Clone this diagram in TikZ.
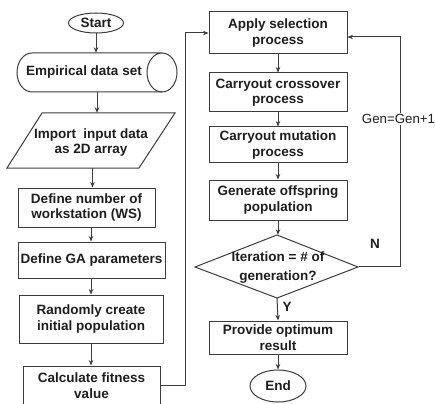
\documentclass[tikz,border=0pt]{standalone}
\usepackage{fontspec}
\setmainfont{Liberation Sans}
\usetikzlibrary{arrows.meta,shapes.geometric}
\definecolor{linegray}{HTML}{3C3C3C}
\definecolor{inkgray}{HTML}{1E1E1E}
\tikzset{
  box/.style={draw=linegray, line width=1pt, rectangle, inner sep=0pt,
    align=center, text=inkgray, font=\fontsize{13.5}{15.5}\selectfont\bfseries},
  ghost/.style={rectangle, inner sep=0pt, align=center, text=inkgray,
    font=\fontsize{13.5}{15.5}\selectfont\bfseries},
  term/.style={draw=linegray, line width=1pt, ellipse, inner sep=0pt,
    text=inkgray, font=\fontsize{13.5}{15.5}\selectfont\bfseries},
  flow/.style={draw=linegray, line width=1pt, -{Stealth[length=5.5pt,width=4.5pt]}},
  outline/.style={draw=linegray, line width=1pt},
  tag/.style={text=inkgray, inner sep=1pt, font=\fontsize{13.5}{15.5}\selectfont\bfseries},
}
\begin{document}
\begin{tikzpicture}[x=1pt,y=-1pt]
\useasboundingbox[fill=white] (0,0) rectangle (435,403);

% ---------- left column ----------
\node[term, minimum width=55pt, minimum height=20pt] (start) at (96,23) {Start};

% cylinder (data store)
\node[ghost, minimum width=160pt, minimum height=39pt] (emp) at (97,72.5) {};
\draw[outline] (32,53) -- (162,53) arc[start angle=90, end angle=-270, x radius=15, y radius=-19.5];
\draw[outline] (162,92) -- (32,92) arc[start angle=-90, end angle=-270, x radius=15, y radius=-19.5];
\node[ghost] at (84,72.5) {Empirical data set};

% parallelogram (input)
\node[ghost, minimum width=140pt, minimum height=55pt] (imp) at (91,140.5) {};
\draw[outline] (42,113) -- (175,113) -- (139,168) -- (7,168) -- cycle;
\node[ghost] at (91,142.5) {Import\ \ input data\\as 2D array};

\node[box, minimum width=137pt, minimum height=39pt] (defnum) at (86.5,207.5) {Define number of\\workstation (WS)};
\node[box, minimum width=147pt, minimum height=36pt] (defga) at (91.5,260) {Define GA parameters};
\node[box, minimum width=144pt, minimum height=48pt] (rand) at (91,319) {Randomly create\\initial population};
\node[box, minimum width=137pt, minimum height=39pt] (calc) at (91.5,385.5) {Calculate fitness\\value};

% ---------- right column ----------
\node[box, minimum width=138pt, minimum height=42pt] (apply) at (278,33) {Apply selection\\process};
\node[box, minimum width=138pt, minimum height=39pt] (cross) at (278,92.5) {Carryout crossover\\process};
\node[box, minimum width=138pt, minimum height=36pt] (mut) at (278,145) {Carryout mutation\\process};
\node[box, minimum width=138pt, minimum height=40pt] (offs) at (278,200) {Generate offspring\\population};

% decision diamond
\node[ghost, minimum width=163pt, minimum height=63pt] (iter) at (277,266.5) {};
\draw[outline] (277,235) -- (358,267) -- (277,298) -- (195,267) -- cycle;
\node[ghost, font=\fontsize{13.5}{19}\selectfont\bfseries] at (278,268) {Iteration = \# of\\generation?};

\node[box, minimum width=138pt, minimum height=33pt] (prov) at (278,337.5) {Provide optimum\\result};
\node[term, minimum width=56pt, minimum height=32pt] (end) at (278,386) {End};

% ---------- connectors ----------
\draw[flow] (start.south) -- (start.south |- emp.north);
\draw[flow] (emp.south) -- (emp.south |- imp.north);
\draw[flow] ([xshift=1.5pt]imp.south) -- ([xshift=1.5pt]imp.south |- defnum.north);
\draw[flow] ([xshift=4.5pt]defnum.south) -- ([xshift=4.5pt]defnum.south |- defga.north);
\draw[flow] ([xshift=-0.5pt]defga.south) -- ([xshift=-0.5pt]defga.south |- rand.north);
\draw[flow] (rand.south) -- (rand.south |- calc.north);

\coordinate (bend) at (185,0);
\draw[flow] (calc.east) -- (calc.east -| bend) -- (bend |- apply.west) -- (apply.west);

\draw[flow] (apply.south) -- (cross.north);
\draw[flow] (cross.south) -- (mut.north);
\draw[flow] (mut.south) -- (offs.north);
\draw[flow] (offs.south) -- (offs.south |- iter.north);
\draw[flow] (iter.south) -- (prov.north);
\draw[flow] (prov.south) -- (end.north);

% loop back for the next generation
\coordinate (loop) at (400,37);
\draw[flow] (iter.east) -- (iter.east -| loop) -- (loop) -- (loop -| apply.east);
\node[fill=white, inner sep=1pt, text=inkgray, font=\fontsize{13.3}{15}\selectfont] (genlab) at (398.5,119) {Gen=Gen+1};

\node[tag] (nlab) at (375,244) {N};
\node[tag] (ylab) at (287,307) {Y};
\end{tikzpicture}
\end{document}
